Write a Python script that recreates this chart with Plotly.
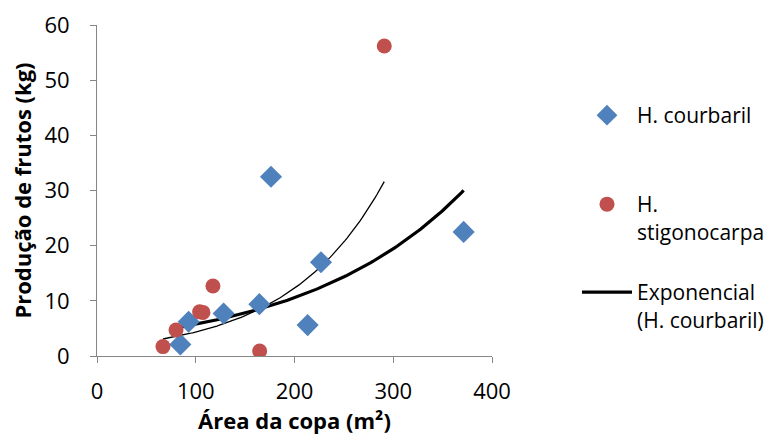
import numpy as np
import plotly.graph_objects as go

# Data
courbaril_area = [84.4, 92.8, 128.2, 164.4, 176.2, 213.3, 226.8, 371.3]
courbaril_prod = [2.1, 6.2, 7.7, 9.4, 32.5, 5.6, 17.0, 22.5]
stigono_area = [66.8, 80.0, 103.9, 107.3, 117.4, 164.7, 290.9]
stigono_prod = [1.7, 4.7, 8.0, 7.9, 12.7, 0.9, 56.2]

x_ticks = [0, 100, 200, 300, 400]
y_ticks = [0, 10, 20, 30, 40, 50, 60]

BLUE = "#4F81BD"
RED = "#C0504D"
AXIS = "#868686"
FONT = "Open Sans"


def exp_trend(xs, ys, n=120):
    """Excel-style exponential trendline: least squares on ln(y)."""
    xs = np.asarray(xs, float)
    ys = np.asarray(ys, float)
    b, lna = np.polyfit(xs, np.log(ys), 1)
    xx = np.linspace(xs.min(), xs.max(), n)
    return xx, np.exp(lna) * np.exp(b * xx)


tx_c, ty_c = exp_trend(courbaril_area, courbaril_prod)
tx_s, ty_s = exp_trend(stigono_area, stigono_prod)

fig = go.Figure()

fig.add_trace(go.Scatter(
    x=tx_s, y=ty_s, mode="lines", line=dict(color="black", width=1.3),
    showlegend=False, hoverinfo="skip"))
fig.add_trace(go.Scatter(
    x=tx_c, y=ty_c, mode="lines", line=dict(color="black", width=3.2),
    name="Exponencial<br>(H. courbaril)", legend="legend3"))
fig.add_trace(go.Scatter(
    x=courbaril_area, y=courbaril_prod, mode="markers",
    marker=dict(symbol="diamond", size=17, color=BLUE),
    name="H. courbaril", legend="legend"))
fig.add_trace(go.Scatter(
    x=stigono_area, y=stigono_prod, mode="markers",
    marker=dict(symbol="circle", size=15, color=RED),
    name="H.<br>stigonocarpa", legend="legend2"))

leg_common = dict(font=dict(family=FONT, size=21, color="black"),
                  bgcolor="rgba(0,0,0,0)", itemwidth=50, valign="top",
                  xref="container", yref="container",
                  xanchor="left", yanchor="top")

fig.update_layout(
    width=780, height=442,
    margin=dict(l=97, r=288, t=25, b=86),
    paper_bgcolor="white", plot_bgcolor="white",
    font=dict(family=FONT, size=22, color="black"),
    legend=dict(x=577 / 780, y=1 - 95 / 442, **leg_common),
    legend2=dict(x=577 / 780, y=1 - 184 / 442, **leg_common),
    legend3=dict(x=577 / 780, y=1 - 272 / 442, **leg_common),
    xaxis=dict(range=[0, 400], tickvals=x_ticks, showgrid=False, zeroline=False,
               showline=True, linecolor=AXIS, linewidth=1, automargin=False,
               ticks="outside", ticklen=6, tickcolor=AXIS,
               ticklabelstandoff=10,
               tickfont=dict(family=FONT, size=22),
               title=dict(text="Área da copa (m²)", standoff=8,
                          font=dict(family=FONT, size=22, weight="bold"))),
    yaxis=dict(range=[0, 60], tickvals=y_ticks, showgrid=False, zeroline=False,
               showline=True, linecolor=AXIS, linewidth=1, automargin=False,
               ticks="outside", ticklen=6, tickcolor=AXIS,
               ticklabelstandoff=16,
               tickfont=dict(family=FONT, size=22),
               title=dict(text="Produção de frutos (kg)", standoff=6,
                          font=dict(family=FONT, size=22, weight="bold"))),
)

fig.write_html("out.html")
